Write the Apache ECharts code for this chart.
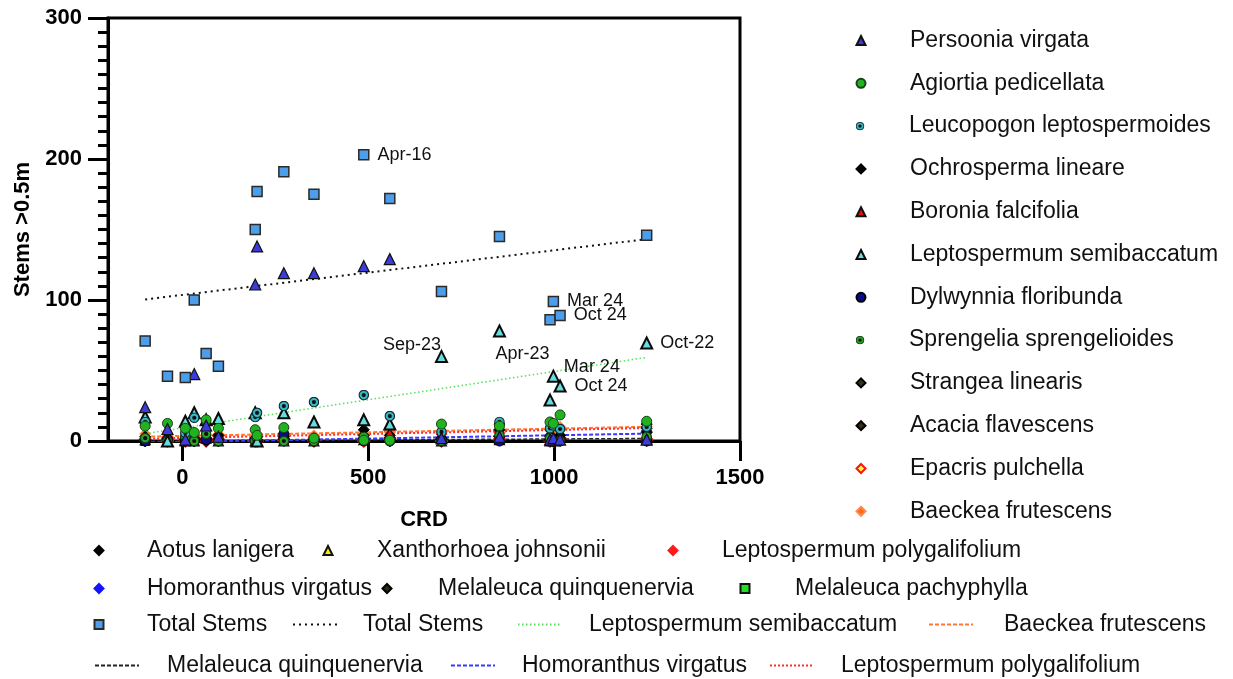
<!DOCTYPE html>
<html>
<head>
<meta charset="utf-8">
<script src="https://cdn.jsdelivr.net/npm/echarts@6/dist/echarts.min.js"></script>
<style>
  html, body { margin: 0; padding: 0; background: #ffffff; }
  #chart { width: 1233px; height: 679px; }
</style>
</head>
<body>
<div id="chart"></div>
<script>
// ---- data: stems > 0.5 m per species at each site, by CRD ----
const crd = [-100, -40, 8, 32, 64, 97, 196, 201, 273, 354, 488, 558, 697, 853, 989, 998, 1016, 1249];

const totalStems        = [71, 46, 45, 100, 62, 53, 150, 177, 191, 175, 203, 172, 106, 145, 86, 99, 89, 146];
const totalStemsTags    = ['', '', '', '', '', '', '', '', '', '', 'Apr-16', '', '', '', '', 'Mar 24', 'Oct 24', ''];

const persooniaVirgata  = [24, 8.5, 1, 47.5, 11, 3, 111, 138, 119, 119, 124, 129, 2, 3, 1, 2, 1, 1];
const agiortiaPedicellata = [10.6, 12.5, 9, 6, 15, 9, 8, 4, 9.5, 2, 0.5, 0.5, 12, 10.6, 13.5, 12.5, 18.5, 14];
const leucopogonLeptospermoides = [13.5, null, 5.7, 16.5, null, null, 17, 20, 24.8, 27.6, 32.6, 17.7, 6.4, 13.5, 9, 11, 8.5, 10];
const ochrospermaLineare = [3, 2, 1, 0, 2, 4, 2, 1, 3, 2, 8, 4, 2, 8, 3, 2, 4, 6];
const boroniaFalcifolia  = [1, 0, 0, 0, 2, 0, 0, 0, 0, 0, 1, 5.5, 0, 1, 0, 0, 3, 2];
const leptospermumSemibaccatum = [17, 0, 14, 20, 15, 16, 20, 0, 20, 13.5, 15, 12, 60, 78, 29, 46, 39, 69.5];
const leptospermumSemibaccatumTags = ['', '', '', '', '', '', '', '', '', '', '', '', 'Sep-23', 'Apr-23', '', 'Mar 24', 'Oct 24', 'Oct-22'];
const dylwynniaFloribunda = [0, 1, 0, 0, 1, 0, 0, 0, 5, 0, 0, 0, 0, 0, 1, 0, 0, 0];
const sprengeliaSprengelioides = [2, 0, 3, 0, 5, 0, 0, 2, 0, 0, 3, 0, 0, 4, 2, 0, 0, 3];
const strangeaLinearis   = [1, 0, 2, 1, 0, 1, 0, 3, 2, 1, 4, 2, 1, 12, 1, 0, 1, 9];
const acaciaFlavescens   = [0, 1, 0, 2, 1, 0, 1, 0, 1, 0, 2, 1, 0, 3, 0, 1, 2, 12];
const epacrisPulchella   = [1, 0, 0, 2, 0, 1, 0, 0, 1, 0, 0, 2, 0, 1, 0, 0, 2, 1];
const baeckeaFrutescens  = [5, 2, 3, 6, 7, 5, 3, 4, 3, 4, 5, 6, 6, 8, 9, 8, 10, 12];
const aotusLanigera      = [0, 0, 1, 0, 0, 2, 0, 0, 0, 1, 0, 0, 0, 1, 0, 0, 0, 0];
const xanthorhoeaJohnsonii = [null, null, null, null, null, null, null, null, null, null, null, null, null, 2, null, null, null, 1];
const leptospermumPolygalifolium = [2, 3, 1, 4, 2, 3, 2, 3, 5, 3, 4, 7, 5, 6, 8, 7, 9, 10];
const homoranthusVirgatus = [0, 0, 0, 0, 0, 0, 0, 0, 0, 0, 1, 0, 2, 3, 4, 5, 4, 7];
const melaleucaQuinquenervia = [0, 0, 0, 0, 1, 0, 0, 0, 1, 0, 1, 0, 2, 1, 1, 2, 1, 2];
const melaleucaPachyphylla = [0, null, null, 0, null, null, null, null, 0, null, null, null, null, null, null, null, null, null];

const xTickValues = [0, 500, 1000, 1500];

// ---- helpers ----
const FONT = "'Liberation Sans', Arial, Helvetica, sans-serif";

function pairs(ys, tags, place) {
  return crd.map((x, i) => {
    if (ys[i] == null) return null;
    const item = { value: [x, ys[i]] };
    const tag = tags ? tags[i] : '';
    if (tag) {
      item.label = Object.assign({
        show: true, formatter: tag, fontSize: 18, color: '#111', fontFamily: FONT
      }, place(tag));
    }
    return item;
  }).filter(d => d !== null);
}

// least-squares line over the CRD range covered by a species
function fitLine(ys) {
  const pts = crd.map((x, i) => [x, ys[i]]).filter(p => p[1] != null);
  const n = pts.length;
  const mx = pts.reduce((s, p) => s + p[0], 0) / n;
  const my = pts.reduce((s, p) => s + p[1], 0) / n;
  let sxy = 0, sxx = 0;
  pts.forEach(p => { sxy += (p[0] - mx) * (p[1] - my); sxx += (p[0] - mx) * (p[0] - mx); });
  const b = sxy / sxx, a = my - b * mx;
  const x0 = Math.min(...pts.map(p => p[0]));
  const x1 = Math.max(...pts.map(p => p[0]));
  return [[x0, a + b * x0], [x1, a + b * x1]];
}

function ringDot(ring, stroke) {
  const svg = "<svg xmlns='http://www.w3.org/2000/svg' width='24' height='24' viewBox='0 0 24 24'>" +
    "<circle cx='12' cy='12' r='10.3' fill='" + ring + "' stroke='" + stroke + "' stroke-width='2.6'/>" +
    "<circle cx='12' cy='12' r='4.6' fill='#111'/></svg>";
  return 'image://data:image/svg+xml;charset=utf-8,' + encodeURIComponent(svg);
}

function scatter(name, ys, symbol, size, fill, border, bw, extra) {
  return Object.assign({
    name, type: 'scatter', z: 3,
    symbol, symbolSize: size,
    itemStyle: { color: fill, borderColor: border, borderWidth: bw, opacity: 1 },
    data: pairs(ys),
    emphasis: { disabled: true }
  }, extra || {});
}

function trend(name, ys, color, width, dash) {
  return {
    name, type: 'line', z: 2, symbol: 'none', silent: true,
    lineStyle: { color, width, type: dash },
    itemStyle: { color },
    data: fitLine(ys),
    emphasis: { disabled: true }
  };
}

const semiPlace = {
  'Sep-23': { position: 'left', distance: 0, offset: [6, -11] },
  'Apr-23': { position: 'bottom', distance: 8, offset: [23, 0] },
  'Mar 24': { position: 'right', distance: 4, offset: [0, -9] },
  'Oct 24': { position: 'right', distance: 8 },
  'Oct-22': { position: 'right', distance: 7 }
};
const totalPlace = {
  'Apr-16': { position: 'right', distance: 8 },
  'Mar 24': { position: 'right', distance: 8 },
  'Oct 24': { position: 'right', distance: 8 }
};

// ---- series (later entries are drawn on top) ----
const series = [
  trend('Total Stems fit', totalStems, '#111111', 2, [2, 4]),
  trend('Leptospermum semibaccatum fit', leptospermumSemibaccatum, '#55e055', 1.5, [1.5, 2.5]),
  trend('Baeckea frutescens fit', baeckeaFrutescens, '#ff7a30', 2, [4, 2]),
  trend('Melaleuca quinquenervia fit', melaleucaQuinquenervia, '#222222', 1.5, [4, 2]),
  trend('Homoranthus virgatus fit', homoranthusVirgatus, '#3a3aff', 2, [4, 2]),
  trend('Leptospermum polygalifolium fit', leptospermumPolygalifolium, '#ff2a2a', 2, [2, 2]),

  scatter('Melaleuca pachyphylla', melaleucaPachyphylla, 'rect', 9, '#22dd22', '#111', 1),
  scatter('Aotus lanigera', aotusLanigera, 'diamond', 11, '#000000', '#000', 1),
  scatter('Homoranthus virgatus', homoranthusVirgatus, 'diamond', 11, '#1414ff', '#1414ff', 1),
  scatter('Melaleuca quinquenervia', melaleucaQuinquenervia, 'diamond', 11, '#2c2c10', '#000', 1),
  scatter('Xanthorhoea johnsonii', xanthorhoeaJohnsonii, 'triangle', 10, '#f2f200', '#111', 1.2),
  scatter('Leptospermum polygalifolium', leptospermumPolygalifolium, 'diamond', 11, '#ff1a1a', '#ff1a1a', 1),
  scatter('Baeckea frutescens', baeckeaFrutescens, 'diamond', 11, '#ff6a1a', '#ff8a4a', 1),
  scatter('Epacris pulchella', epacrisPulchella, 'diamond', 11, '#ffff40', '#ff1010', 2),
  scatter('Acacia flavescens', acaciaFlavescens, 'diamond', 11, '#3a2a14', '#000', 1),
  scatter('Strangea linearis', strangeaLinearis, 'diamond', 11, '#33331a', '#000', 1),
  scatter('Ochrosperma lineare', ochrospermaLineare, 'diamond', 11, '#000000', '#000', 1),
  scatter('Boronia falcifolia', boroniaFalcifolia, 'triangle', 10, '#e01010', '#111', 1.2),
  scatter('Dylwynnia floribunda', dylwynniaFloribunda, 'circle', 10, '#0a0a8c', '#000', 1),
  scatter('Sprengelia sprengelioides', sprengeliaSprengelioides, ringDot('#2aa52a', '#123d12'), 11, '#2aa52a', '#000', 0),
  Object.assign(scatter('Leptospermum semibaccatum', leptospermumSemibaccatum, 'triangle', 11, '#66dcdc', '#0a0a0a', 2),
    { data: pairs(leptospermumSemibaccatum, leptospermumSemibaccatumTags, t => semiPlace[t]) }),
  scatter('Leucopogon leptospermoides', leucopogonLeptospermoides, ringDot('#38b8c4', '#0d2d30'), 11, '#38b8c4', '#000', 0),
  scatter('Agiortia pedicellata', agiortiaPedicellata, 'circle', 10, '#1fb41f', '#1c3f1c', 1),
  scatter('Persoonia virgata', persooniaVirgata, 'triangle', 11, '#3c3cdc', '#111', 1.2),
  Object.assign(scatter('Total Stems', totalStems, 'rect', 10, '#4c9eea', '#2a2a2a', 1.5),
    { data: pairs(totalStems, totalStemsTags, t => totalPlace[t]) })
];

// ---- legend layout ----
const shownName = {
  'Total Stems fit': 'Total Stems',
  'Leptospermum semibaccatum fit': 'Leptospermum semibaccatum',
  'Baeckea frutescens fit': 'Baeckea frutescens',
  'Melaleuca quinquenervia fit': 'Melaleuca quinquenervia',
  'Homoranthus virgatus fit': 'Homoranthus virgatus',
  'Leptospermum polygalifolium fit': 'Leptospermum polygalifolium'
};

function legendAt(name, iconCx, textX, cy, iconW, iconH, lineOnly) {
  const left = iconCx - iconW / 2;
  const lg = {
    data: [name], left, top: cy - 12, padding: 0, itemGap: 0,
    itemWidth: iconW, itemHeight: iconH, selectedMode: false,
    formatter: n => shownName[n] || n,
    textStyle: {
      fontSize: 23, color: '#111', fontFamily: FONT,
      padding: [0, 0, 0, textX - left - iconW - 5]
    }
  };
  // trend entries show only the dashed stroke
  if (lineOnly) lg.itemStyle = { opacity: 0 };
  return lg;
}

const rightColumn = [
  'Persoonia virgata', 'Agiortia pedicellata', 'Leucopogon leptospermoides', 'Ochrosperma lineare',
  'Boronia falcifolia', 'Leptospermum semibaccatum', 'Dylwynnia floribunda', 'Sprengelia sprengelioides',
  'Strangea linearis', 'Acacia flavescens', 'Epacris pulchella', 'Baeckea frutescens'
];
const legends = rightColumn.map((n, i) => legendAt(n, 860, 909, 41 + i * 42.8, 9, 9));
[
  ['Aotus lanigera', 98, 146, 551, 9, 9],
  ['Xanthorhoea johnsonii', 327, 376, 551, 9, 9],
  ['Leptospermum polygalifolium', 672, 721, 551, 9, 9],
  ['Homoranthus virgatus', 98, 146, 589, 9, 9],
  ['Melaleuca quinquenervia', 386, 437, 589, 9, 9],
  ['Melaleuca pachyphylla', 744, 794, 589, 9, 9],
  ['Total Stems', 98, 146, 625, 9, 9],
  ['Total Stems fit', 314, 362, 625, 44, 8, true],
  ['Leptospermum semibaccatum fit', 539, 588, 625, 44, 8, true],
  ['Baeckea frutescens fit', 950, 1003, 625, 44, 8, true],
  ['Melaleuca quinquenervia fit', 116, 166, 666, 44, 8, true],
  ['Homoranthus virgatus fit', 472, 521, 666, 44, 8, true],
  ['Leptospermum polygalifolium fit', 791, 840, 666, 44, 8, true]
].forEach(e => legends.push(legendAt(...e)));

const chart = echarts.init(document.getElementById('chart'), null, { renderer: 'canvas' });
chart.setOption({
  animation: false,
  backgroundColor: '#ffffff',
  textStyle: { fontFamily: FONT },
  grid: {
    left: 108, right: 493, top: 18, bottom: 238,
    show: true, borderColor: '#000', borderWidth: 3, backgroundColor: 'transparent'
  },
  legend: legends,
  xAxis: {
    type: 'value', min: -200, max: 1500,
    name: 'CRD', nameLocation: 'middle', nameGap: 68,
    nameTextStyle: { fontSize: 22, fontWeight: 'bold', color: '#000', fontFamily: FONT },
    axisLine: { show: true, onZero: false, lineStyle: { color: '#000', width: 3 } },
    axisTick: { show: true, length: 20, lineStyle: { color: '#000', width: 3 }, customValues: xTickValues },
    axisLabel: {
      customValues: xTickValues, formatter: v => String(v),
      fontSize: 22, fontWeight: 'bold', color: '#000', margin: 26, fontFamily: FONT
    },
    splitLine: { show: false }
  },
  yAxis: {
    type: 'value', min: 0, max: 300, interval: 100,
    name: 'Stems >0.5m', nameLocation: 'middle', nameGap: 74,
    nameTextStyle: { fontSize: 22, fontWeight: 'bold', color: '#000', fontFamily: FONT },
    axisLine: { show: true, onZero: false, lineStyle: { color: '#000', width: 3 } },
    axisTick: { show: true, length: 20, lineStyle: { color: '#000', width: 3 } },
    minorTick: { show: true, splitNumber: 10, length: 10, lineStyle: { color: '#000', width: 3 } },
    axisLabel: { formatter: v => String(v), fontSize: 22, fontWeight: 'bold', color: '#000', margin: 26, fontFamily: FONT },
    splitLine: { show: false }
  },
  series
});
</script>
</body>
</html>
